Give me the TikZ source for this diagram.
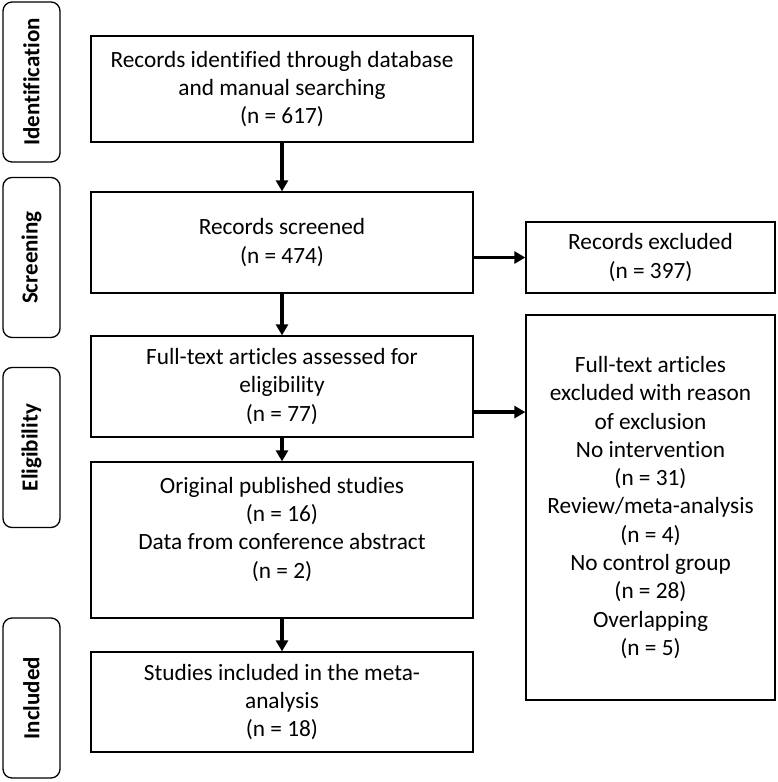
\documentclass[tikz,border=0pt]{standalone}
\usepackage{fontspec}
\setmainfont{Carlito}[Ligatures={NoCommon}]
\usetikzlibrary{arrows.meta, calc}
\begin{document}
\begin{tikzpicture}[x=1pt, y=-1pt,
  box/.style={draw, line width=1.3pt, align=center, inner sep=0pt,
    minimum width=382pt, font=\fontsize{23.3}{28.3}\selectfont},
  excl/.style={box, minimum width=249pt},
  stage/.style={draw, line width=1.3pt, rounded corners=9pt, rotate=90,
    minimum width=160pt, minimum height=57pt, inner sep=0pt,
    font=\fontsize{23}{26}\selectfont\bfseries},
  flow/.style={line width=3.6pt, -{Triangle[width=12pt, length=11pt]}}]
\useasboundingbox (0,0) rectangle (778,782);
% stages
\node[stage] (S_id) at (31.5,82) {Identification};
\node[stage] (S_scr) at (31.5,257.5) {Screening};
\node[stage] (S_elig) at (31.5,447.5) {Eligibility};
\node[stage] (S_incl) at (31.5,698) {Included};
% main flow
\node[box, minimum height=106pt] (B_1) at (282,89) {Records identified through database\\and manual searching\\(n = 617)};
\node[box, minimum height=101pt] (B_2) at (282,242.5) {Records screened\\(n = 474)};
\node[box, minimum height=101pt] (B_3) at (282,386.5) {Full-text articles assessed for\\eligibility\\(n = 77)};
\node[box, minimum height=156pt, text depth=25pt] (B_4) at (282,540) {Original published studies\\(n = 16)\\Data from conference abstract\\(n = 2)};
\node[box, minimum height=100pt] (B_5) at (282,702) {Studies included in the meta-\\analysis\\(n = 18)};
\draw[flow] (B_1) -- (B_2);
\draw[flow] (B_2) -- (B_3);
\draw[flow] (B_3) -- (B_4);
\draw[flow] (B_4) -- (B_5);
% exclusions
\node[excl, minimum height=71pt] (E_1) at (650.5,257.5) {Records excluded\\(n = 397)};
\node[excl, minimum height=385pt] (E_2) at (650.5,507.5) {Full-text articles\\excluded with reason\\of exclusion\\No intervention\\(n = 31)\\Review/meta-analysis\\(n = 4)\\No control group\\(n = 28)\\Overlapping\\(n = 5)};
\draw[flow] (E_1.west -| B_2.east) -- (E_1.west);
\coordinate (C_3) at ($(B_3.south east)!0.25!(B_3.north east)$);
\draw[flow] (C_3) -- (C_3 -| E_2.west);
\end{tikzpicture}
\end{document}
